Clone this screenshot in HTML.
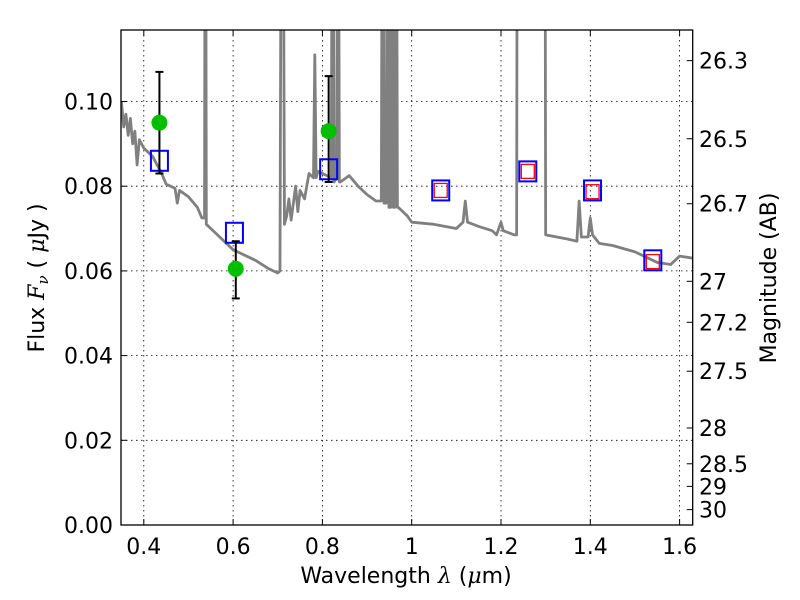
<!DOCTYPE html>
<html><head><meta charset="utf-8"><style>
body{margin:0;background:#fff}
svg{display:block;font-family:"DejaVu Sans","Liberation Sans",sans-serif}
</style></head><body>
<svg id="chart" width="800" height="600" viewBox="0 0 800 600" xmlns="http://www.w3.org/2000/svg">
<rect width="800" height="600" fill="#fff"/>
<defs><clipPath id="pc"><rect x="121" y="30" width="571.7" height="495"/></clipPath></defs>
<g id="grid"></g>
<g id="spec" clip-path="url(#pc)"></g>
<g id="pts" clip-path="url(#pc)"></g>
<rect x="121" y="30" width="571.7" height="495" fill="none" stroke="#000" stroke-width="1.3"/>
<g id="axes" font-size="22"></g>
<text x="406" y="583" font-size="22" text-anchor="middle">Wavelength  <tspan font-style="italic" font-family="DejaVu Serif,serif">λ</tspan> (<tspan font-style="italic" font-family="DejaVu Serif,serif">μ</tspan>m)</text>
<text transform="translate(44,278) rotate(-90)" font-size="22" text-anchor="middle">Flux  <tspan font-style="italic" font-family="DejaVu Serif,serif">F<tspan font-size="15" dy="4">ν</tspan></tspan><tspan dy="-4">  (  </tspan><tspan font-style="italic" font-family="DejaVu Serif,serif">μ</tspan>Jy )</text>
<text transform="translate(776,278) rotate(-90)" font-size="22" text-anchor="middle">Magnitude (AB)</text>
</svg>
<script>
const xTicks=[0.4,0.6,0.8,1.0,1.2,1.4,1.6];
const xTickLabels=["0.4","0.6","0.8","1","1.2","1.4","1.6"];
const yTicks=[0,0.02,0.04,0.06,0.08,0.10];
const yTickLabels=["0.00","0.02","0.04","0.06","0.08","0.10"];
const magTicks=[26.3,26.5,26.7,27,27.2,27.5,28,28.5,29,30];
const magTickLabels=["26.3","26.5","26.7","27","27.2","27.5","28","28.5","29","30"];
const specWave=[0.35,0.355,0.36,0.365,0.37,0.375,0.38,0.385,0.39,0.40,0.42,0.44,0.45,0.47,0.475,0.48,0.50,0.52,0.53,0.536,0.538,0.540,0.56,0.60,0.65,0.68,0.70,0.705,0.709,0.711,0.715,0.72,0.725,0.73,0.74,0.745,0.75,0.76,0.77,0.78,0.783,0.786,0.79,0.80,0.81,0.820,0.823,0.826,0.832,0.835,0.838,0.84,0.86,0.88,0.90,0.92,0.932,0.935,0.938,0.943,0.946,0.949,0.953,0.956,0.959,0.962,0.965,0.968,0.97,0.99,1.0,1.05,1.1,1.115,1.12,1.125,1.15,1.18,1.19,1.20,1.205,1.23,1.235,1.237,1.298,1.30,1.35,1.37,1.375,1.38,1.395,1.40,1.405,1.42,1.45,1.5,1.55,1.58,1.6,1.63];
const specFlux=[0.0999,0.094,0.097,0.092,0.096,0.090,0.093,0.085,0.091,0.089,0.087,0.083,0.0805,0.0795,0.076,0.079,0.0775,0.075,0.0725,0.0725,0.2,0.071,0.069,0.065,0.0625,0.0605,0.0595,0.060,0.2,0.2,0.071,0.073,0.077,0.072,0.080,0.074,0.079,0.077,0.083,0.082,0.111,0.082,0.0835,0.083,0.0825,0.082,0.2,0.081,0.082,0.2,0.081,0.081,0.0825,0.080,0.078,0.0765,0.0765,0.2,0.076,0.076,0.2,0.075,0.075,0.2,0.075,0.075,0.2,0.075,0.075,0.073,0.0715,0.071,0.070,0.0715,0.0765,0.0715,0.0705,0.0695,0.0685,0.0715,0.0695,0.0685,0.0685,0.2,0.2,0.0685,0.0675,0.067,0.0765,0.068,0.068,0.0725,0.0685,0.0665,0.066,0.0645,0.062,0.0615,0.0635,0.063];
const obsWave=[0.435,0.606,0.814];
const obsFlux=[0.095,0.0605,0.093];
const obsErrHi=[0.107,0.067,0.106];
const obsErrLo=[0.083,0.0535,0.081];
const modelWave=[0.435,0.603,0.814,1.065,1.26,1.405,1.54];
const modelFlux=[0.086,0.069,0.084,0.079,0.0835,0.079,0.0625];
const redWave=[1.065,1.26,1.405,1.54];
const redFlux=[0.079,0.0835,0.0787,0.0622];

const X=v=>411.7+(v-1.0)*446.5;
const Y=v=>525-v*4235;
const M=m=>Y(Math.pow(10,(23.9-m)/2.5));
const NS="http://www.w3.org/2000/svg";
function mk(p,t,a){const e=document.createElementNS(NS,t);for(const k in a)e.setAttribute(k,a[k]);p.appendChild(e);return e;}
const grid=document.getElementById('grid'),axes=document.getElementById('axes');
xTicks.forEach((t,i)=>{
 const l=mk(grid,'line',{x1:X(t),x2:X(t),y1:30,y2:525,stroke:'#000','stroke-width':0.8,'stroke-dasharray':'1.5,3.5'});
 
 
 mk(axes,'line',{x1:X(t),x2:X(t),y1:525,y2:519,stroke:'#000'});
 mk(axes,'line',{x1:X(t),x2:X(t),y1:30,y2:36,stroke:'#000'});
 const tx=mk(axes,'text',{x:X(t),y:554,'text-anchor':'middle'});tx.textContent=xTickLabels[i];
 
 
});
yTicks.forEach((t,i)=>{
 const l=mk(grid,'line',{x1:121,x2:692.7,y1:Y(t),y2:Y(t),stroke:'#000','stroke-width':0.8,'stroke-dasharray':'1.5,3.5'});
 
 
 mk(axes,'line',{x1:121,x2:127,y1:Y(t),y2:Y(t),stroke:'#000'});
 const tx=mk(axes,'text',{x:113,y:Y(t)+8,'text-anchor':'end'});tx.textContent=yTickLabels[i];
 
 
});
magTicks.forEach((m,i)=>{
 mk(axes,'line',{x1:686.7,x2:692.7,y1:M(m),y2:M(m),stroke:'#000'});
 const tx=mk(axes,'text',{x:699,y:M(m)+8});tx.textContent=magTickLabels[i];
 
 
});
const spec=document.getElementById('spec');
const sp=mk(spec,'polyline',{points:specWave.map((w,i)=>X(w)+','+Y(specFlux[i])).join(' '),fill:'none',stroke:'#808080','stroke-width':2.8,'stroke-linejoin':'round'});


const pts=document.getElementById('pts');
modelWave.forEach((w,i)=>{
 const r=mk(pts,'rect',{x:X(w)-8.5,y:Y(modelFlux[i])-10,width:17,height:20,fill:'none',stroke:'#0000ff','stroke-width':2});
 
 
});
redWave.forEach((w,i)=>{
 const r=mk(pts,'rect',{x:X(w)-6.5,y:Y(redFlux[i])-7,width:13,height:14,fill:'none',stroke:'#ff0000','stroke-width':1.3});
 
 
});
obsWave.forEach((w,i)=>{
 const g=mk(pts,'g',{});
 
 
 mk(g,'line',{x1:X(w),x2:X(w),y1:Y(obsErrHi[i]),y2:Y(obsErrLo[i]),stroke:'#000','stroke-width':2});
 mk(g,'line',{x1:X(w)-4,x2:X(w)+4,y1:Y(obsErrHi[i]),y2:Y(obsErrHi[i]),stroke:'#000','stroke-width':2});
 mk(g,'line',{x1:X(w)-4,x2:X(w)+4,y1:Y(obsErrLo[i]),y2:Y(obsErrLo[i]),stroke:'#000','stroke-width':2});
 mk(g,'circle',{cx:X(w),cy:Y(obsFlux[i]),r:8,fill:'#00bf00'});
});
</script>
</body></html>
